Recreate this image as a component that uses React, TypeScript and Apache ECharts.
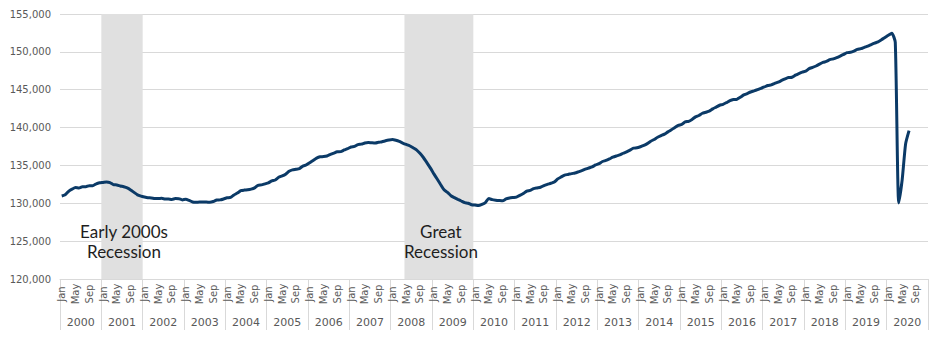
import React, { useEffect, useRef } from "react";
import * as echarts from "echarts";

const years = ["2000","2001","2002","2003","2004","2005","2006","2007","2008","2009","2010","2011","2012","2013","2014","2015","2016","2017","2018","2019","2020"];
const monthNames = ["Jan","Feb","Mar","Apr","May","Jun","Jul","Aug","Sep","Oct","Nov","Dec"];

// Total nonfarm employment (thousands), monthly
const v2000 = [130960, 131120, 131580, 131870, 132080, 132030, 132200, 132180, 132330, 132330, 132560, 132700];
const v2001 = [132750, 132810, 132740, 132460, 132420, 132290, 132180, 132030, 131770, 131440, 131120, 130950];
const v2002 = [130830, 130730, 130710, 130630, 130620, 130660, 130570, 130560, 130510, 130620, 130610, 130450];
const v2003 = [130530, 130380, 130170, 130140, 130160, 130160, 130160, 130130, 130230, 130430, 130450, 130570];
const v2004 = [130720, 130780, 131100, 131350, 131660, 131740, 131780, 131870, 132030, 132380, 132430, 132570];
const v2005 = [132710, 132950, 133080, 133440, 133610, 133850, 134220, 134420, 134490, 134580, 134910, 135070];
const v2006 = [135350, 135660, 135960, 136140, 136170, 136250, 136450, 136630, 136800, 136820, 137040, 137210];
const v2007 = [137440, 137510, 137750, 137810, 137960, 138030, 137990, 137960, 138050, 138130, 138250, 138350];
const v2008 = [138420, 138330, 138180, 137960, 137770, 137600, 137330, 137060, 136600, 136050, 135380, 134680];
const v2009 = [133920, 133200, 132480, 131780, 131440, 131000, 130750, 130520, 130300, 130090, 130010, 129800];
const v2010 = [129760, 129700, 129850, 130100, 130620, 130480, 130410, 130360, 130320, 130570, 130690, 130760];
const v2011 = [130820, 131040, 131280, 131600, 131700, 131930, 132030, 132120, 132340, 132500, 132640, 132800];
const v2012 = [133220, 133480, 133720, 133810, 133920, 134000, 134150, 134310, 134500, 134660, 134820, 135060];
const v2013 = [135240, 135520, 135660, 135860, 136090, 136250, 136380, 136610, 136800, 137030, 137280, 137330];
const v2014 = [137470, 137640, 137880, 138200, 138430, 138720, 138930, 139130, 139430, 139700, 140020, 140290];
const v2015 = [140420, 140740, 140830, 141080, 141410, 141600, 141890, 142030, 142170, 142470, 142710, 142950];
const v2016 = [143070, 143300, 143550, 143700, 143730, 144000, 144310, 144490, 144700, 144840, 145000, 145180];
const v2017 = [145360, 145560, 145640, 145830, 146000, 146220, 146430, 146610, 146650, 146920, 147140, 147330];
const v2018 = [147450, 147790, 147950, 148130, 148380, 148600, 148740, 148970, 149080, 149240, 149440, 149660];
const v2019 = [149900, 149950, 150110, 150330, 150420, 150600, 150760, 150960, 151150, 151320, 151600, 151900];
const v2020 = [152200, 152450, 151250, 130050, 133100, 137850, 139600];

const employment = [
  ...v2000, ...v2001, ...v2002, ...v2003, ...v2004, ...v2005, ...v2006, ...v2007,
  ...v2008, ...v2009, ...v2010, ...v2011, ...v2012, ...v2013, ...v2014, ...v2015,
  ...v2016, ...v2017, ...v2018, ...v2019, ...v2020,
];

const recessionStarts = ["Jan 2001", "May 2008"];
const recessionEnds = ["Dec 2001", "Dec 2009"];
const recessionLabels = [["Early 2000s", "Recession"], ["Great", "Recession"]];

const yMin = 120000;
const yMax = 155000;
const yInterval = 5000;

const categories = years.flatMap((y) => monthNames.map((m) => `${m} ${y}`));

export default function App() {
  const ref = useRef<HTMLDivElement>(null);

  useEffect(() => {
    if (!ref.current) return;
    const chart = echarts.init(ref.current, undefined, { renderer: "svg" });

    const recessionData = recessionStarts.map((s, i) => [
      categories.indexOf(s),
      categories.indexOf(recessionEnds[i]),
    ]);

    const gridLeft = 60;
    const gridRight = 15;
    const gridTop = 14;
    const gridBottom = 58;
    const plotW = 943 - gridLeft - gridRight;
    const band = plotW / categories.length;

    const textEls: any[] = [];
    recessionData.forEach((r, i) => {
      const cx = gridLeft + ((r[0] + r[1] + 1) / 2) * band + 2;
      recessionLabels[i].forEach((t, j) => {
        textEls.push({
          type: "text",
          x: cx,
          y: 231 + j * 20,
          z: 100,
          style: {
            text: t,
            fill: "#1e1e1e",
            font: '17px Lato, "Open Sans", sans-serif',
            textAlign: "center",
            textVerticalAlign: "middle",
          },
        });
      });
    });

    chart.setOption({
      animation: false,
      backgroundColor: "#ffffff",
      grid: { left: gridLeft, right: gridRight, top: gridTop, bottom: gridBottom, containLabel: false },
      xAxis: [
        {
          type: "category",
          data: categories,
          position: "bottom",
          boundaryGap: true,
          axisLine: { show: true, lineStyle: { color: "#d9d9d9", width: 1 } },
          axisTick: { show: false },
          splitLine: { show: false },
          axisLabel: {
            interval: (index: number) => index % 4 === 0,
            formatter: (v: string) => v.split(" ")[0],
            rotate: 90,
            align: "center",
            margin: 15,
            color: "#595959",
            fontSize: 10,
            fontFamily: '"DejaVu Sans", sans-serif',
          },
        },
        {
          type: "category",
          data: years,
          position: "bottom",
          boundaryGap: true,
          axisLine: { show: false },
          axisTick: { show: true, length: 51, lineStyle: { color: "#d9d9d9", width: 1 } },
          splitLine: { show: false },
          axisLabel: {
            interval: 0,
            margin: 43,
            verticalAlign: "middle",
            color: "#595959",
            fontSize: 11,
            fontFamily: '"DejaVu Sans", sans-serif',
          },
        },
      ],
      yAxis: {
        type: "value",
        min: yMin,
        max: yMax,
        interval: yInterval,
        axisLine: { show: false },
        axisTick: { show: false },
        splitLine: { show: true, lineStyle: { color: "#d9d9d9", width: 1 } },
        axisLabel: {
          margin: 9,
          color: "#595959",
          fontSize: 10,
          fontFamily: '"DejaVu Sans", sans-serif',
          formatter: (v: number) => v.toLocaleString("en-US"),
        },
      },
      series: [
        {
          type: "custom",
          xAxisIndex: 0,
          yAxisIndex: 0,
          silent: true,
          data: recessionData,
          encode: { x: 0 },
          renderItem: (params: any, api: any) => {
            const s = api.value(0);
            const e = api.value(1);
            const w = api.size([1, 0])[0];
            const p0 = api.coord([s, yMax]);
            const p1 = api.coord([e, yMin]);
            return {
              type: "rect",
              shape: { x: p0[0] - w / 2, y: p0[1], width: p1[0] - p0[0] + w, height: p1[1] - p0[1] },
              style: { fill: "#e0e0e0" },
            };
          },
          z: 1,
        },
        {
          type: "line",
          xAxisIndex: 0,
          yAxisIndex: 0,
          data: employment,
          showSymbol: false,
          smooth: 0.2,
          lineStyle: { color: "#0b3a67", width: 3 },
          itemStyle: { color: "#0b3a67" },
          z: 3,
        },
      ],
      graphic: textEls,
    });

    return () => chart.dispose();
  }, []);

  return (
    <div
      ref={ref}
      style={{ position: "fixed", left: 0, top: 0, width: 943, height: 337 }}
    />
  );
}
